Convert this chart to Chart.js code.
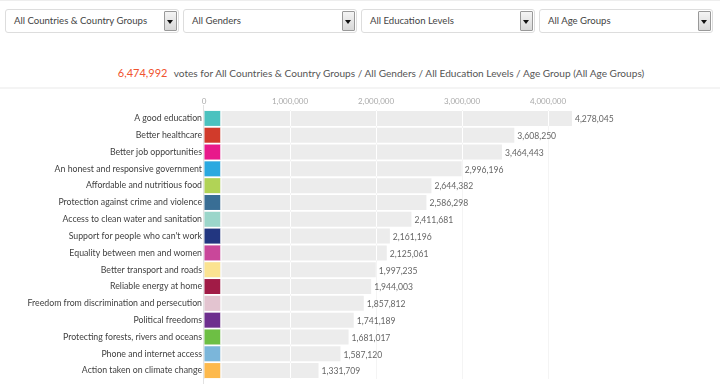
<!DOCTYPE html>
<html>
<head>
<meta charset="utf-8">
<script src="https://cdn.jsdelivr.net/npm/chart.js@4.4.1/dist/chart.umd.min.js"></script>
<style>
body { margin: 0; width: 720px; height: 390px; background: #fff; font-family: Lato, "Open Sans", sans-serif; overflow: hidden; position: relative; }
.topline { position: absolute; left: 0; top: 0; width: 720px; height: 1px; background: #eee; }
.sel { position: absolute; top: 9px; width: 172px; height: 22px; border: 1px solid #ddd; border-radius: 3px; background: #fff; font-size: 9.6px; color: #444; line-height: 22px; box-sizing: content-box; }
.sel span { position: absolute; left: 8px; }
.sel .btn { position: absolute; right: 1px; top: 1px; width: 11px; height: 18px; border: 1px solid #999; background: linear-gradient(#f4f4f4, #d8d8d8); border-radius: 1px; }
.sel .btn:after { content: ""; position: absolute; left: 2px; top: 8px; border-left: 3.5px solid transparent; border-right: 3.5px solid transparent; border-top: 4px solid #111; }
#title { position: absolute; top: 66px; left: 0; width: 720px; text-align: center; font-size: 10.1px; color: #555; padding-left: 42px; box-sizing: border-box; }
#title b { color: #f0532f; font-weight: normal; font-size: 11px; margin-right: 4px; }
.sep { position: absolute; left: 0; top: 87px; width: 720px; height: 2px; background: #f4f4f4; }
#wrap { position: absolute; left: 0; top: 90px; width: 720px; height: 300px; }
</style>
</head>
<body>
<div class="topline"></div>
<div class="sel" style="left:5px"><span>All Countries &amp; Country Groups</span><div class="btn"></div></div>
<div class="sel" style="left:183px"><span>All Genders</span><div class="btn"></div></div>
<div class="sel" style="left:361px"><span>All Education Levels</span><div class="btn"></div></div>
<div class="sel" style="left:539px"><span>All Age Groups</span><div class="btn"></div></div>
<div id="title"><b>6,474,992</b> votes for All Countries &amp; Country Groups / All Genders / All Education Levels / Age Group (All Age Groups)</div>
<div class="sep"></div>
<div id="wrap"><canvas id="chart" width="720" height="300"></canvas></div>
<script>
var categories = [
    'A good education',
    'Better healthcare',
    'Better job opportunities',
    'An honest and responsive government',
    'Affordable and nutritious food',
    'Protection against crime and violence',
    'Access to clean water and sanitation',
    "Support for people who can't work",
    'Equality between men and women',
    'Better transport and roads',
    'Reliable energy at home',
    'Freedom from discrimination and persecution',
    'Political freedoms',
    'Protecting forests, rivers and oceans',
    'Phone and internet access',
    'Action taken on climate change'
];
var votes = [4278045, 3608250, 3464443, 2996196, 2644382, 2586298, 2411681, 2161196,
             2125061, 1997235, 1944003, 1857812, 1741189, 1681017, 1587120, 1331709];
var swatches = ['#4bc2bf', '#d13b2b', '#e8198b', '#2aa9e0', '#b1d356', '#396e95', '#9bd6ca', '#223680',
                '#c9479a', '#fbe391', '#a11b46', '#e3c4d0', '#6e2f8e', '#6dbf44', '#7bb6da', '#fdb94c'];
var tickValues = [0, 1000000, 2000000, 3000000, 4000000];

function fmt(v) {
    return v.toLocaleString('en-US');
}

// colored square, white grid over bars, value labels and the zero axis line
var barDecor = {
    id: 'barDecor',
    afterDatasetsDraw: function(chart) {
        var ctx = chart.ctx;
        var xs = chart.scales.x;
        var area = chart.chartArea;
        var meta = chart.getDatasetMeta(0);
        ctx.save();
        meta.data.forEach(function(bar, i) {
            var top = bar.y - bar.height / 2;
            var h = bar.height;
            // gridlines show white across the grey bar
            ctx.fillStyle = '#fff';
            tickValues.forEach(function(t) {
                var px = Math.round(xs.getPixelForValue(t));
                if (t > 0 && px < bar.x) ctx.fillRect(px, top, 1, h);
            });
            ctx.fillStyle = swatches[i];
            ctx.fillRect(bar.base, top, 16, h);
            ctx.fillStyle = '#fff';
            ctx.fillRect(bar.base + 16, top, 1, h);
            ctx.fillStyle = '#666';
            ctx.font = '8.6px Lato';
            ctx.textBaseline = 'middle';
            ctx.textAlign = 'left';
            ctx.fillText(fmt(votes[i]), bar.x + 3, bar.y + 1);
        });
        var x0 = Math.round(xs.getPixelForValue(0)) - 1;
        ctx.fillStyle = '#e2e2e2';
        ctx.fillRect(x0, area.top - 5, 1, area.bottom - area.top + 10);
        ctx.restore();
    }
};

new Chart(document.getElementById('chart').getContext('2d'), {
    type: 'bar',
    data: {
        labels: categories,
        datasets: [{
            data: votes,
            backgroundColor: '#ececec',
            borderWidth: 0,
            barPercentage: 0.89,
            categoryPercentage: 1.0
        }]
    },
    plugins: [barDecor],
    options: {
        indexAxis: 'y',
        responsive: false,
        animation: false,
        layout: { padding: { top: 0, right: 86, bottom: 11, left: 0 } },
        plugins: { legend: { display: false }, tooltip: { enabled: false } },
        scales: {
            x: {
                position: 'top',
                min: 0,
                max: 5000000,
                afterBuildTicks: function(scale) {
                    scale.ticks = tickValues.map(function(v) { return { value: v }; });
                },
                afterFit: function(scale) { scale.height = 20; },
                grid: { color: '#f4f4f4', drawTicks: false },
                border: { display: false },
                ticks: {
                    padding: 4,
                    color: '#aaa',
                    font: { family: 'Lato', size: 8 },
                    callback: function(v) { return fmt(v); }
                }
            },
            y: {
                afterFit: function(scale) { scale.width = 204; },
                grid: { display: false, drawTicks: false },
                border: { display: false },
                ticks: {
                    padding: 2,
                    color: '#3f3f3f',
                    font: { family: 'Lato', size: 8.75 }
                }
            }
        }
    }
});
</script>
</body>
</html>
